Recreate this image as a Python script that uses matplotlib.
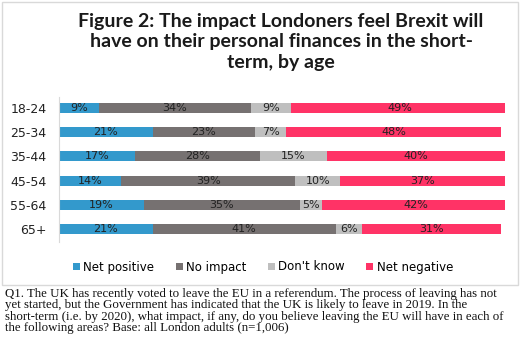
import matplotlib.pyplot as plt
from matplotlib.patches import Rectangle

ages = ['18-24', '25-34', '35-44', '45-54', '55-64', '65+']
net_positive = [9, 21, 17, 14, 19, 21]
no_impact = [34, 23, 28, 39, 35, 41]
dont_know = [9, 7, 15, 10, 5, 6]
net_negative = [49, 48, 40, 37, 42, 31]

series = [
    ('Net positive', net_positive, '#3399cc'),
    ('No impact', no_impact, '#767171'),
    ("Don't know", dont_know, '#bfbfbf'),
    ('Net negative', net_negative, '#ff3366'),
]

fig = plt.figure(figsize=(5.2, 3.57), dpi=100)
ax = fig.add_axes([59 / 520, 1 - 242 / 357, 446 / 520, 145 / 357])

# stacked horizontal bars
ypos = list(range(len(ages)))
left = [0] * len(ages)
for name, vals, col in series:
    ax.barh(ypos, vals, left=left, height=0.42, color=col, label=name)
    for y, l, v in zip(ypos, left, vals):
        ax.text(l + v / 2, y, f'{v}%', ha='center', va='center',
                fontsize=8, color='#222222')
    left = [l + v for l, v in zip(left, vals)]

ax.set_xlim(0, 100)
ax.set_ylim(5.53, -0.45)
ax.set_yticks(ypos)
ax.set_yticklabels(ages, fontsize=9, color='#222222')
ax.tick_params(axis='y', length=0, pad=9)
ax.set_xticks([])
for s in ['top', 'right', 'bottom']:
    ax.spines[s].set_visible(False)
ax.spines['left'].set_color('#d9d9d9')

# title
fig.text(281 / 520, 1 - 42 / 357,
         'Figure 2: The impact Londoners feel Brexit will\n'
         'have on their personal finances in the short-\nterm, by age',
         ha='center', va='center', fontsize=14, fontweight='bold',
         family='Lato', linespacing=1.22, color='#1a1a1a')

# legend
handles, labels = ax.get_legend_handles_labels()
fig.legend(handles, labels, loc='center', bbox_to_anchor=(263 / 520, 1 - 267 / 357),
           ncol=4, frameon=False, fontsize=8.5, handlelength=0.6, handleheight=0.6,
           handletextpad=0.3, columnspacing=1.8)

# border around chart area
fig.patches.append(Rectangle((2 / 520, 1 - 285 / 357), 516 / 520, 283 / 357,
                             transform=fig.transFigure, fill=False,
                             edgecolor='#d9d9d9', linewidth=1))

# footnote
fig.text(5 / 520, 1 - 288 / 357,
         'Q1. The UK has recently voted to leave the EU in a referendum. The process of leaving has not\n'
         'yet started, but the Government has indicated that the UK is likely to leave in 2019. In the\n'
         'short-term (i.e. by 2020), what impact, if any, do you believe leaving the EU will have in each of\n'
         'the following areas? Base: all London adults (n=1,006)',
         ha='left', va='top', fontsize=9.3, family='Liberation Serif',
         linespacing=0.92, color='#111111')

fig.savefig('out.png', dpi=100)
